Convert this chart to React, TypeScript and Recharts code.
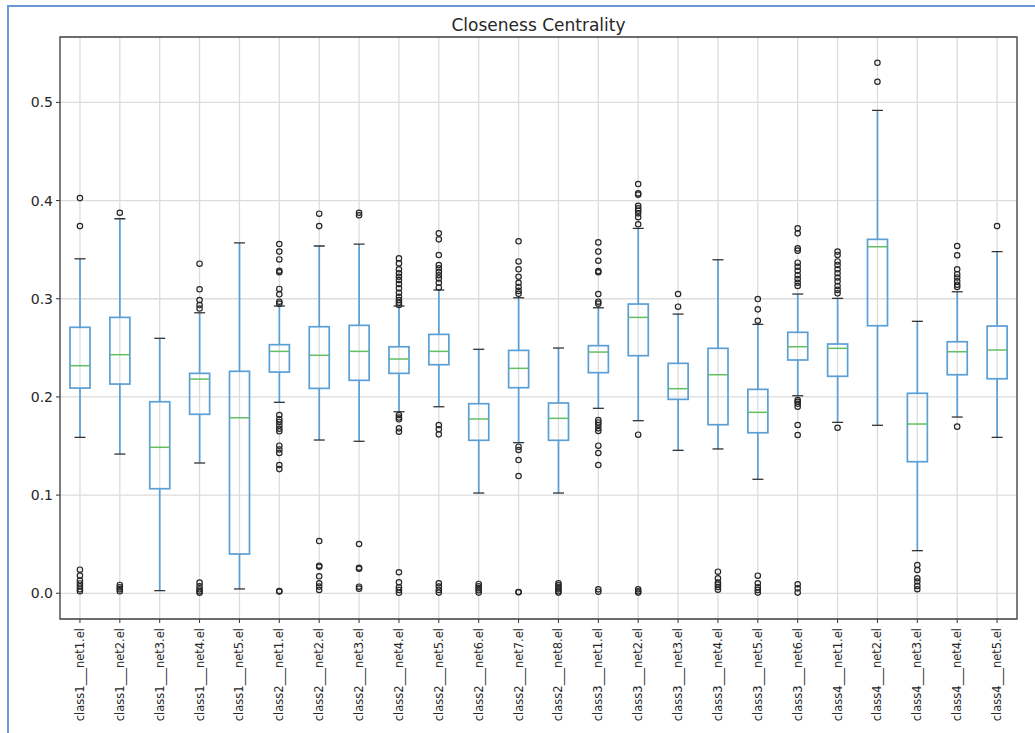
import React from 'react';
import { ComposedChart, Bar, Scatter, XAxis, YAxis, CartesianGrid, ReferenceArea } from 'recharts';

const categories = [
  'class1___net1.el', 'class1___net2.el', 'class1___net3.el', 'class1___net4.el', 'class1___net5.el',
  'class2___net1.el', 'class2___net2.el', 'class2___net3.el', 'class2___net4.el', 'class2___net5.el',
  'class2___net6.el', 'class2___net7.el', 'class2___net8.el',
  'class3___net1.el', 'class3___net2.el', 'class3___net3.el', 'class3___net4.el', 'class3___net5.el', 'class3___net6.el',
  'class4___net1.el', 'class4___net2.el', 'class4___net3.el', 'class4___net4.el', 'class4___net5.el',
];

const whiskerLow = [0.1588, 0.1418, 0.0027, 0.1327, 0.0044, 0.1945, 0.1561, 0.1548, 0.1849, 0.19, 0.1021, 0.1534, 0.1021, 0.1884, 0.1758, 0.1456, 0.147, 0.1161, 0.2012, 0.1741, 0.1711, 0.0434, 0.1795, 0.1588];
const q1 = [0.209, 0.2131, 0.1065, 0.1823, 0.04, 0.2253, 0.2087, 0.2169, 0.224, 0.2328, 0.1558, 0.2094, 0.1558, 0.2247, 0.242, 0.1975, 0.1717, 0.1635, 0.2376, 0.221, 0.2725, 0.134, 0.2226, 0.2185];
const median = [0.2318, 0.243, 0.1487, 0.2182, 0.1788, 0.2464, 0.2424, 0.2464, 0.2386, 0.2464, 0.1775, 0.2291, 0.1782, 0.2457, 0.281, 0.2084, 0.2226, 0.1843, 0.2511, 0.2495, 0.353, 0.1724, 0.246, 0.2478];
const q3 = [0.2709, 0.281, 0.1951, 0.224, 0.2261, 0.2532, 0.2715, 0.2729, 0.2511, 0.2637, 0.1931, 0.2474, 0.1938, 0.2522, 0.2946, 0.2342, 0.2495, 0.2077, 0.2658, 0.2539, 0.3605, 0.2037, 0.2562, 0.2722];
const whiskerHigh = [0.3407, 0.3815, 0.2597, 0.2857, 0.357, 0.2926, 0.3537, 0.3557, 0.2926, 0.3089, 0.2485, 0.301, 0.2498, 0.2908, 0.3717, 0.2844, 0.3397, 0.2739, 0.3048, 0.3004, 0.4918, 0.277, 0.3071, 0.348];

const outliers: number[][] = [
  [0.4025, 0.374, 0.024, 0.018, 0.013, 0.01, 0.007, 0.004, 0.002],
  [0.3876, 0.0085, 0.006, 0.004, 0.002],
  [],
  [0.3357, 0.3096, 0.2987, 0.2936, 0.29, 0.0108, 0.007, 0.004, 0.002, 0.0006],
  [],
  [0.3557, 0.348, 0.34, 0.3285, 0.327, 0.31, 0.3045, 0.297, 0.295, 0.1816, 0.1772, 0.1745, 0.171, 0.1676, 0.165, 0.1503, 0.1465, 0.143, 0.1306, 0.1265, 0.0023, 0.0018],
  [0.3866, 0.374, 0.0532, 0.0281, 0.027, 0.0173, 0.0102, 0.0068, 0.0034],
  [0.3876, 0.385, 0.0502, 0.026, 0.025, 0.0067, 0.0047],
  [0.3411, 0.336, 0.33, 0.3259, 0.3224, 0.319, 0.315, 0.3106, 0.3061, 0.302, 0.2987, 0.2959, 0.2936, 0.1816, 0.179, 0.1772, 0.168, 0.1646, 0.0214, 0.0112, 0.0061, 0.0034, 0.0005],
  [0.3666, 0.3605, 0.3445, 0.3343, 0.331, 0.3275, 0.324, 0.3207, 0.3163, 0.3115, 0.1714, 0.167, 0.1619, 0.0102, 0.0068, 0.0034, 0.0007],
  [0.0095, 0.007, 0.005, 0.003, 0.0007],
  [0.3585, 0.338, 0.33, 0.3224, 0.3163, 0.312, 0.308, 0.305, 0.1493, 0.146, 0.1357, 0.1194, 0.0013, 0.001],
  [0.0102, 0.008, 0.006, 0.004, 0.002, 0.0007],
  [0.3574, 0.348, 0.3387, 0.3282, 0.327, 0.3048, 0.297, 0.295, 0.1765, 0.174, 0.1714, 0.168, 0.1653, 0.1503, 0.1429, 0.1306, 0.004, 0.0016],
  [0.4168, 0.4073, 0.406, 0.3947, 0.392, 0.3897, 0.387, 0.383, 0.3758, 0.1615, 0.004, 0.002, 0.0007],
  [0.3048, 0.2919],
  [0.022, 0.0153, 0.011, 0.0088, 0.0064, 0.0037],
  [0.2997, 0.2892, 0.2776, 0.0179, 0.0102, 0.0061, 0.0034, 0.0007],
  [0.3717, 0.3666, 0.3513, 0.349, 0.3367, 0.3326, 0.3285, 0.324, 0.32, 0.3163, 0.313, 0.1968, 0.195, 0.193, 0.19, 0.1714, 0.1612, 0.0092, 0.005, 0.0007],
  [0.348, 0.3446, 0.338, 0.3344, 0.33, 0.326, 0.3217, 0.3177, 0.313, 0.309, 0.3055, 0.1686],
  [0.5403, 0.521],
  [0.0288, 0.0237, 0.0153, 0.012, 0.0075, 0.0041],
  [0.3537, 0.3442, 0.33, 0.325, 0.3217, 0.3177, 0.3143, 0.312, 0.1697],
  [0.374],
];

const yTicks = [0, 0.1, 0.2, 0.3, 0.4, 0.5];
const yDomain: [number, number] = [-0.0262, 0.5666];
const title = 'Closeness Centrality';

const boxData = categories.map((name, i) => ({
  name,
  idx: i,
  lo: whiskerLow[i],
  q1: q1[i],
  med: median[i],
  q3: q3[i],
  hi: whiskerHigh[i],
}));

const outlierPoints = outliers.flatMap((arr, i) => arr.map((v) => ({ i, v })));

const BOX = '#5a9fd6';
const MED = '#62bf62';
const CAP = '#333333';
const FRAME = '#6a9ad4';

const BoxShape = (props: any) => {
  const { x, y, width, height, payload } = props;
  if (!payload) return null;
  const top = Math.min(y, y + height);
  const bottom = Math.max(y, y + height);
  const { lo, hi } = payload;
  const py = (v: number) => bottom - ((v - lo) / (hi - lo)) * (bottom - top);
  const cx = x + width / 2;
  const capW = width * 0.55;
  const yq1 = py(payload.q1);
  const yq3 = py(payload.q3);
  const ym = py(payload.med);
  return (
    <g>
      <line x1={cx} x2={cx} y1={bottom} y2={yq1} stroke={BOX} strokeWidth={1.7} />
      <line x1={cx} x2={cx} y1={yq3} y2={top} stroke={BOX} strokeWidth={1.7} />
      <line x1={cx - capW / 2} x2={cx + capW / 2} y1={top} y2={top} stroke={CAP} strokeWidth={1.3} />
      <line x1={cx - capW / 2} x2={cx + capW / 2} y1={bottom} y2={bottom} stroke={CAP} strokeWidth={1.3} />
      <rect x={x} y={yq3} width={width} height={yq1 - yq3} fill="none" stroke={BOX} strokeWidth={1.7} />
      <line x1={x} x2={x + width} y1={ym} y2={ym} stroke={MED} strokeWidth={1.5} />
    </g>
  );
};

const OutlierShape = (props: any) => {
  const { cx, cy } = props;
  if (cx == null || cy == null) return null;
  return <circle cx={cx} cy={cy} r={2.7} fill="none" stroke="#262626" strokeWidth={1.2} />;
};

const XTick = (props: any) => {
  const { x, y, payload } = props;
  return (
    <text
      x={x}
      y={y}
      transform={`rotate(-90, ${x}, ${y})`}
      textAnchor="end"
      dominantBaseline="central"
      fontSize={11.5}
      fill="#262626"
      fontFamily="DejaVu Sans"
    >
      {payload.value}
    </text>
  );
};

export default function App() {
  return (
    <div
      style={{
        position: 'absolute',
        left: 0,
        top: 0,
        width: 1035,
        height: 733,
        overflow: 'hidden',
        background: '#fff',
        fontFamily: 'DejaVu Sans',
      }}
    >
      <div
        style={{
          position: 'absolute',
          left: 60,
          width: 957,
          top: 14,
          textAlign: 'center',
          fontSize: 17,
          lineHeight: '22px',
          color: '#262626',
          fontFamily: 'DejaVu Sans',
        }}
      >
        {title}
      </div>
      <div style={{ position: 'absolute', left: 0, top: 0 }}>
        <ComposedChart
          width={1035}
          height={733}
          data={boxData}
          margin={{ top: 37, right: 18, bottom: 0, left: 0 }}
        >
          <CartesianGrid stroke="#dcdcdc" strokeWidth={1.3} />
          <XAxis
            dataKey="name"
            type="category"
            height={114}
            interval={0}
            axisLine={false}
            tickSize={4}
            tickMargin={5}
            tickLine={{ stroke: '#333' }}
            tick={<XTick />}
          />
          <XAxis xAxisId="num" dataKey="i" type="number" domain={[-0.5, 23.5]} hide allowDataOverflow />
          <YAxis
            type="number"
            domain={yDomain}
            ticks={yTicks}
            width={60}
            axisLine={false}
            tickSize={4}
            tickMargin={3}
            allowDataOverflow
            tickLine={{ stroke: '#333' }}
            tickFormatter={(v: number) => v.toFixed(1)}
            tick={{ fontSize: 14, fill: '#262626', fontFamily: 'DejaVu Sans' }}
          />
          <Bar
            dataKey={(d: any) => [d.lo, d.hi]}
            barSize={20}
            shape={(p: any) => <BoxShape {...p} />}
            isAnimationActive={false}
          />
          <Scatter
            xAxisId="num"
            data={outlierPoints}
            dataKey="v"
            shape={(p: any) => <OutlierShape {...p} />}
            isAnimationActive={false}
          />
          <ReferenceArea
            xAxisId="num"
            x1={-0.5}
            x2={23.5}
            y1={yDomain[0]}
            y2={yDomain[1]}
            fill="none"
            stroke="#444"
            strokeWidth={1.3}
            ifOverflow="visible"
          />
        </ComposedChart>
      </div>
      <div style={{ position: 'absolute', left: 7, top: 5, width: 2, height: 740, background: FRAME, zIndex: 10 }} />
      <div style={{ position: 'absolute', left: 7, top: 5, width: 1040, height: 2, background: FRAME, zIndex: 10 }} />
    </div>
  );
}
